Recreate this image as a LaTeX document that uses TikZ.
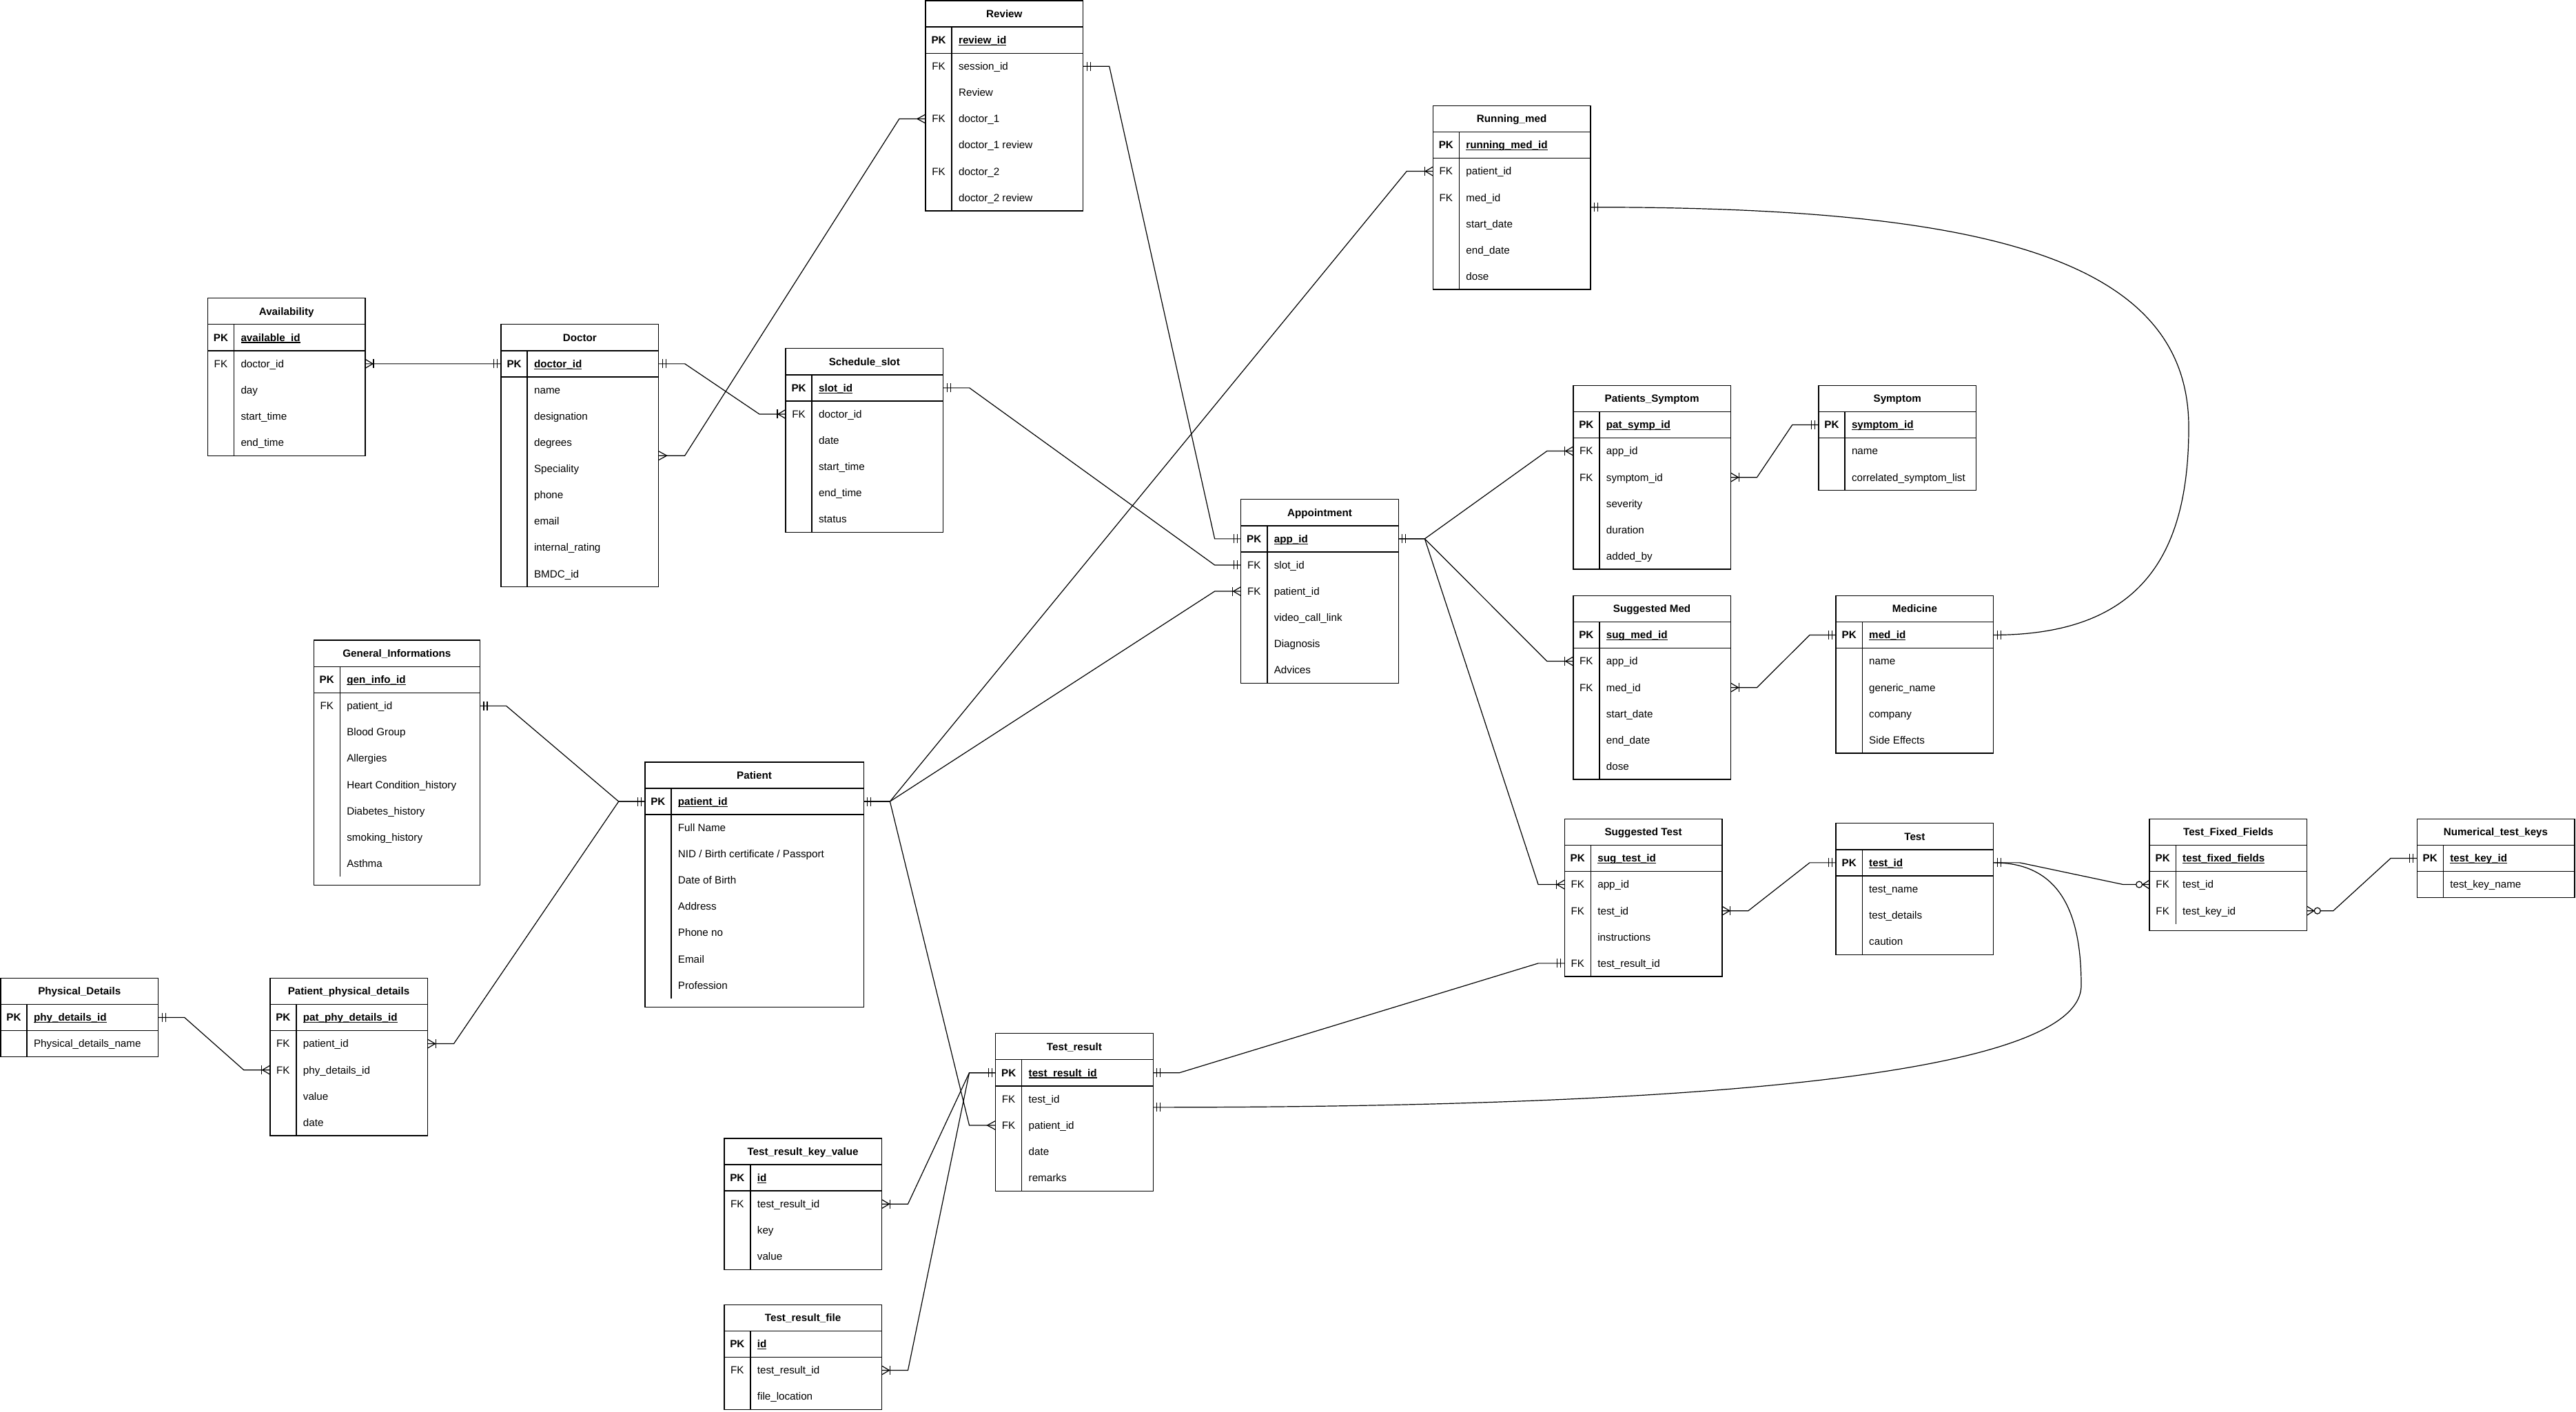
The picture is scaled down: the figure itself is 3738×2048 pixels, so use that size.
\documentclass[tikz,border=0pt]{standalone}
\usepackage{fontspec}
\setmainfont{Liberation Sans}
\usetikzlibrary{calc}
\newcommand\fsz{\fontsize{15.2}{18}\selectfont}
\newcommand\ulfield[1]{\setbox0\hbox{#1}\rlap{\rule[-2.4pt]{\wd0}{1.1pt}}\box0}
\tikzset{
  tbl/.style={draw=black, line width=1.4pt},
  tblbox/.style={tbl, inner sep=0pt, outer sep=0pt},
  txt/.style={inner sep=0pt, outer sep=0pt, text height=10.8pt, text depth=0pt, font=\fsz},
  hdr/.style={txt, minimum height=38.1pt, font=\fsz\bfseries},
  rowbox/.style={inner sep=0pt, outer sep=0pt, minimum height=38.1pt},
  keytext/.style={txt},
  fieldtext/.style={txt, anchor=west},
  conn/.style={draw=black, line width=1.2pt},
  mone/.pic={\draw[conn] (5.5,-6.5) -- (5.5,6.5) (10.5,-6.5) -- (10.5,6.5);},
  many/.pic={\draw[conn] (0,-6.5) -- (12,0) -- (0,6.5);},
  onemany/.pic={\draw[conn] (0,-6.5) -- (11,0) -- (0,6.5); \draw[conn] (12,-6.5) -- (12,6.5);},
  zeromany/.pic={\draw[conn] (0,-6.5) -- (10,0) -- (0,6.5); \draw[conn, fill=white] (15,0) circle (4.5);}
}
% table frame: id, x, y, width, rows (without header), extra bottom, title
\newcommand\ertable[7]{%
  \def\tx{#2}\def\ty{#3}\def\tw{#4}%
  \node[tblbox, minimum width=#4pt, minimum height={(38.1*(#5+1)+#6)*1pt}, anchor=north west] (#1-box) at (#2,#3) {};
  \node[hdr, minimum width=#4pt, anchor=north west] (#1) at (#2,#3) {#7};
  \draw[tbl] (#2,{#3+38.1}) -- ++(#4,0) (#2,{#3+76.2}) -- ++(#4,0);
  \draw[tbl] ({#2+38.1},{#3+38.1}) -- ({#2+38.1},{#3+38.1*(#5+1)});
}
% row: name, index, key, field
\newcommand\errow[4]{%
  \node[rowbox, minimum width=\tw pt, anchor=north west] (#1) at (\tx,{\ty+38.1*#2}) {};
  \node[keytext] at ($(#1.west)+(19.05,0)$) {#3};
  \node[fieldtext] at ($(#1.west)+(48.1,0)$) {#4};
}
\newcommand\pkrow[2]{\errow{#1}{1}{\bfseries PK}{\bfseries\ulfield{#2}}}
\newcommand\erlink[2]{\draw[conn] (#1) -- ++(38.1,0) -- ($(#2)+(-38.1,0)$) -- (#2);}

\begin{document}
\begin{tikzpicture}[x=1pt,y=-1pt]
\fill[white] (0,0) rectangle (3738,2048);
\useasboundingbox (0,0) rectangle (3738,2048);

% ---------------- tables ----------------
\ertable{rev}{1343}{1}{228.6}{7}{0}{Review}
\pkrow{rev-pk}{review\_id}
\errow{rev-sess}{2}{FK}{session\_id}
\errow{rev-rv}{3}{}{Review}
\errow{rev-d1}{4}{FK}{doctor\_1}
\errow{rev-d1r}{5}{}{doctor\_1 review}
\errow{rev-d2}{6}{FK}{doctor\_2}
\errow{rev-d2r}{7}{}{doctor\_2 review}

\ertable{rm}{2079.3}{153.3}{228.6}{6}{0}{Running\_med}
\pkrow{rm-pk}{running\_med\_id}
\errow{rm-pat}{2}{FK}{patient\_id}
\errow{rm-med}{3}{FK}{med\_id}
\errow{rm-sd}{4}{}{start\_date}
\errow{rm-ed}{5}{}{end\_date}
\errow{rm-dose}{6}{}{dose}

\ertable{av}{301.4}{432.6}{228.6}{5}{0}{Availability}
\pkrow{av-pk}{available\_id}
\errow{av-doc}{2}{FK}{doctor\_id}
\errow{av-day}{3}{}{day}
\errow{av-st}{4}{}{start\_time}
\errow{av-et}{5}{}{end\_time}

\ertable{doc}{727}{470.7}{228.6}{9}{0}{Doctor}
\pkrow{doc-pk}{doctor\_id}
\errow{doc-name}{2}{}{name}
\errow{doc-des}{3}{}{designation}
\errow{doc-deg}{4}{}{degrees}
\errow{doc-spe}{5}{}{Speciality}
\errow{doc-ph}{6}{}{phone}
\errow{doc-em}{7}{}{email}
\errow{doc-ir}{8}{}{internal\_rating}
\errow{doc-bm}{9}{}{BMDC\_id}

\ertable{ss}{1140}{505.7}{228.6}{6}{0}{Schedule\_slot}
\pkrow{ss-pk}{slot\_id}
\errow{ss-doc}{2}{FK}{doctor\_id}
\errow{ss-date}{3}{}{date}
\errow{ss-st}{4}{}{start\_time}
\errow{ss-et}{5}{}{end\_time}
\errow{ss-stat}{6}{}{status}

\ertable{ps}{2282.8}{559.3}{228.6}{6}{0}{Patients\_Symptom}
\pkrow{ps-pk}{pat\_symp\_id}
\errow{ps-app}{2}{FK}{app\_id}
\errow{ps-sym}{3}{FK}{symptom\_id}
\errow{ps-sev}{4}{}{severity}
\errow{ps-dur}{5}{}{duration}
\errow{ps-add}{6}{}{added\_by}

\ertable{sy}{2638.9}{559.3}{228.6}{3}{0}{Symptom}
\pkrow{sy-pk}{symptom\_id}
\errow{sy-name}{2}{}{name}
\errow{sy-cor}{3}{}{correlated\_symptom\_list}

\ertable{ap}{1800.7}{724.7}{228.6}{6}{0}{Appointment}
\pkrow{ap-pk}{app\_id}
\errow{ap-slot}{2}{FK}{slot\_id}
\errow{ap-pat}{3}{FK}{patient\_id}
\errow{ap-vid}{4}{}{video\_call\_link}
\errow{ap-dia}{5}{}{Diagnosis}
\errow{ap-adv}{6}{}{Advices}

\ertable{sm}{2282.8}{864.3}{228.6}{6}{0}{Suggested Med}
\pkrow{sm-pk}{sug\_med\_id}
\errow{sm-app}{2}{FK}{app\_id}
\errow{sm-med}{3}{FK}{med\_id}
\errow{sm-sd}{4}{}{start\_date}
\errow{sm-ed}{5}{}{end\_date}
\errow{sm-dose}{6}{}{dose}

\ertable{me}{2664.1}{864.3}{228.6}{5}{0}{Medicine}
\pkrow{me-pk}{med\_id}
\errow{me-name}{2}{}{name}
\errow{me-gen}{3}{}{generic\_name}
\errow{me-com}{4}{}{company}
\errow{me-se}{5}{}{Side Effects}

\ertable{gi}{455.2}{929.1}{241.3}{8}{12.7}{General\_Informations}
\pkrow{gi-pk}{gen\_info\_id}
\errow{gi-pat}{2}{FK}{patient\_id}
\errow{gi-bg}{3}{}{Blood Group}
\errow{gi-all}{4}{}{Allergies}
\errow{gi-hc}{5}{}{Heart Condition\_history}
\errow{gi-dia}{6}{}{Diabetes\_history}
\errow{gi-smk}{7}{}{smoking\_history}
\errow{gi-ast}{8}{}{Asthma}

\ertable{pa}{935.8}{1105.9}{317.5}{8}{12.7}{Patient}
\pkrow{pa-pk}{patient\_id}
\errow{pa-fn}{2}{}{Full Name}
\errow{pa-nid}{3}{}{NID / Birth certificate / Passport}
\errow{pa-dob}{4}{}{Date of Birth}
\errow{pa-adr}{5}{}{Address}
\errow{pa-ph}{6}{}{Phone no}
\errow{pa-em}{7}{}{Email}
\errow{pa-pro}{8}{}{Profession}

\ertable{st}{2270.2}{1188.3}{228.6}{5}{0}{Suggested Test}
\pkrow{st-pk}{sug\_test\_id}
\errow{st-app}{2}{FK}{app\_id}
\errow{st-test}{3}{FK}{test\_id}
\errow{st-ins}{4}{}{instructions}
\errow{st-res}{5}{FK}{test\_result\_id}

\ertable{te}{2664.1}{1194.7}{228.6}{4}{0}{Test}
\pkrow{te-pk}{test\_id}
\errow{te-name}{2}{}{test\_name}
\errow{te-det}{3}{}{test\_details}
\errow{te-cau}{4}{}{caution}

\ertable{tf}{3119.1}{1188.3}{228.6}{3}{10}{Test\_Fixed\_Fields}
\pkrow{tf-pk}{test\_fixed\_fields}
\errow{tf-test}{2}{FK}{test\_id}
\errow{tf-key}{3}{FK}{test\_key\_id}

\ertable{nk}{3507.2}{1188.3}{228.6}{2}{0}{Numerical\_test\_keys}
\pkrow{nk-pk}{test\_key\_id}
\errow{nk-name}{2}{}{test\_key\_name}

\ertable{pd}{1}{1419.3}{228.6}{2}{0}{Physical\_Details}
\pkrow{pd-pk}{phy\_details\_id}
\errow{pd-name}{2}{}{Physical\_details\_name}

\ertable{pp}{391.8}{1419.3}{228.6}{5}{0}{Patient\_physical\_details}
\pkrow{pp-pk}{pat\_phy\_details\_id}
\errow{pp-pat}{2}{FK}{patient\_id}
\errow{pp-phy}{3}{FK}{phy\_details\_id}
\errow{pp-val}{4}{}{value}
\errow{pp-date}{5}{}{date}

\ertable{tr}{1444.6}{1499.6}{228.6}{5}{0}{Test\_result}
\pkrow{tr-pk}{test\_result\_id}
\errow{tr-test}{2}{FK}{test\_id}
\errow{tr-pat}{3}{FK}{patient\_id}
\errow{tr-date}{4}{}{date}
\errow{tr-rem}{5}{}{remarks}

\ertable{kv}{1050.8}{1651.9}{228.6}{4}{0}{Test\_result\_key\_value}
\pkrow{kv-pk}{id}
\errow{kv-res}{2}{FK}{test\_result\_id}
\errow{kv-key}{3}{}{key}
\errow{kv-val}{4}{}{value}

\ertable{tfile}{1050.8}{1893.2}{228.6}{3}{0}{Test\_result\_file}
\pkrow{tfile-pk}{id}
\errow{tfile-res}{2}{FK}{test\_result\_id}
\errow{tfile-loc}{3}{}{file\_location}

% ---------------- connectors ----------------
\erlink{av-doc.east}{doc-pk.west}
\pic at (av-doc.east) {onemany}; \pic[rotate=180] at (doc-pk.west) {mone};

\erlink{doc-pk.east}{ss-doc.west}
\pic at (doc-pk.east) {mone}; \pic[rotate=180] at (ss-doc.west) {onemany};

\erlink{doc-box.east}{rev-d1.west}
\pic at (doc-box.east) {many}; \pic[rotate=180] at (rev-d1.west) {many};

\erlink{rev-sess.east}{ap-pk.west}
\pic at (rev-sess.east) {mone}; \pic[rotate=180] at (ap-pk.west) {mone};

\erlink{ss-pk.east}{ap-slot.west}
\pic at (ss-pk.east) {mone}; \pic[rotate=180] at (ap-slot.west) {mone};

\erlink{pa-pk.east}{ap-pat.west}
\erlink{pa-pk.east}{rm-pat.west}
\erlink{pa-pk.east}{tr-pat.west}
\pic at (pa-pk.east) {mone};
\pic[rotate=180] at (ap-pat.west) {onemany};
\pic[rotate=180] at (rm-pat.west) {onemany};
\pic[rotate=180] at (tr-pat.west) {many};

\erlink{gi-pat.east}{pa-pk.west}
\erlink{pp-pat.east}{pa-pk.west}
\pic at (gi-pat.east) {mone}; \pic at (pp-pat.east) {onemany};
\pic[rotate=180] at (pa-pk.west) {mone};

\erlink{pd-pk.east}{pp-phy.west}
\pic at (pd-pk.east) {mone}; \pic[rotate=180] at (pp-phy.west) {onemany};

\erlink{ap-pk.east}{ps-app.west}
\erlink{ap-pk.east}{sm-app.west}
\erlink{ap-pk.east}{st-app.west}
\pic at (ap-pk.east) {mone};
\pic[rotate=180] at (ps-app.west) {onemany};
\pic[rotate=180] at (sm-app.west) {onemany};
\pic[rotate=180] at (st-app.west) {onemany};

\erlink{ps-sym.east}{sy-pk.west}
\pic at (ps-sym.east) {onemany}; \pic[rotate=180] at (sy-pk.west) {mone};

\erlink{sm-med.east}{me-pk.west}
\pic at (sm-med.east) {onemany}; \pic[rotate=180] at (me-pk.west) {mone};

\coordinate (k1) at (3176,620);
\coordinate (rmend) at ($(rm-med.east)+(0,14)$);
\draw[conn] (me-pk.east) .. controls +(210,0) and +(0,190) .. (k1)
  .. controls +(0,-250) and +(560,0) .. (rmend);
\pic at (me-pk.east) {mone}; \pic at (rmend) {mone};

\erlink{st-test.east}{te-pk.west}
\pic at (st-test.east) {onemany}; \pic[rotate=180] at (te-pk.west) {mone};

\erlink{te-pk.east}{tf-test.west}
\pic at (te-pk.east) {mone}; \pic[rotate=180] at (tf-test.west) {zeromany};

\coordinate (k2) at (3020,1430);
\coordinate (trend) at ($(tr-test.east)+(0,12)$);
\draw[conn] (te-pk.east) .. controls +(100,0) and +(0,-100) .. (k2)
  .. controls +(0,130) and +(790,0) .. (trend);
\pic at (trend) {mone};

\erlink{tf-key.east}{nk-pk.west}
\pic at (tf-key.east) {zeromany}; \pic[rotate=180] at (nk-pk.west) {mone};

\erlink{tr-pk.east}{st-res.west}
\pic at (tr-pk.east) {mone}; \pic[rotate=180] at (st-res.west) {mone};

\erlink{kv-res.east}{tr-pk.west}
\erlink{tfile-res.east}{tr-pk.west}
\pic at (kv-res.east) {onemany}; \pic at (tfile-res.east) {onemany};
\pic[rotate=180] at (tr-pk.west) {mone};
\end{tikzpicture}
\end{document}
